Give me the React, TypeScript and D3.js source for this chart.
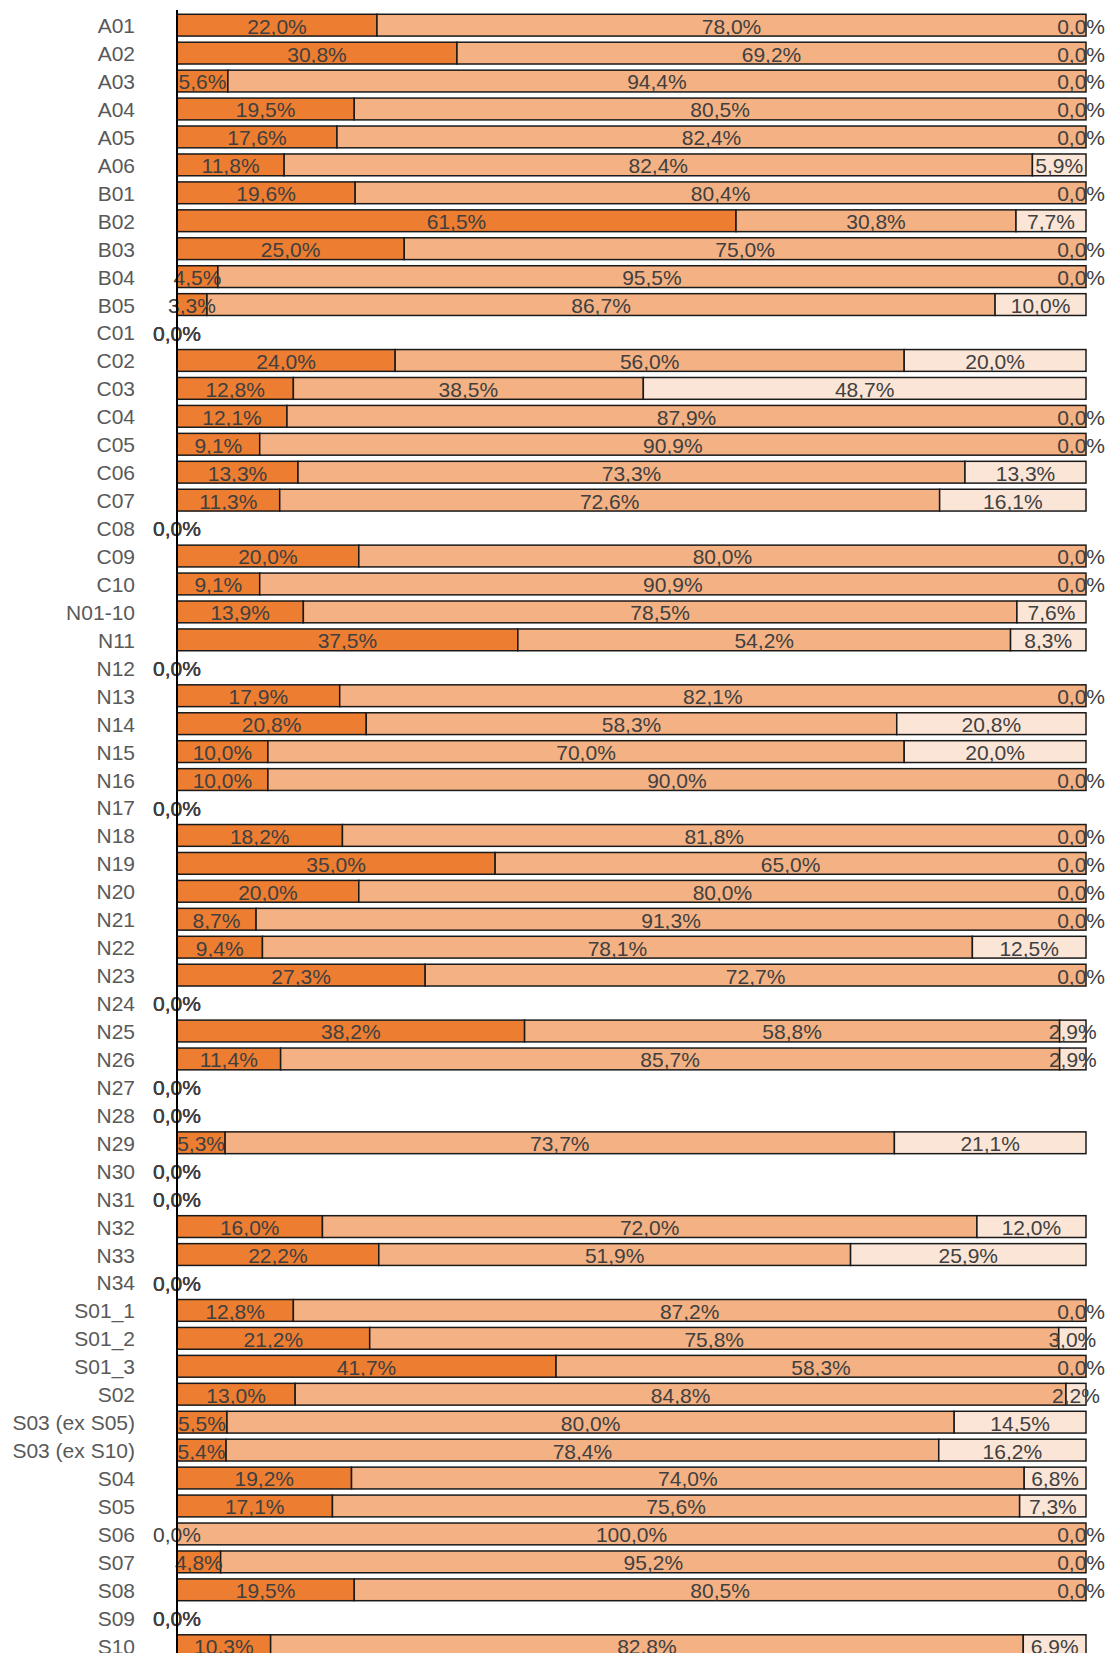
import React, { useRef, useEffect } from 'react';
import * as d3 from 'd3';

const categories = [
  'A01', 'A02', 'A03', 'A04', 'A05', 'A06',
  'B01', 'B02', 'B03', 'B04', 'B05',
  'C01', 'C02', 'C03', 'C04', 'C05', 'C06', 'C07', 'C08', 'C09', 'C10',
  'N01-10', 'N11', 'N12', 'N13', 'N14', 'N15', 'N16', 'N17', 'N18', 'N19', 'N20',
  'N21', 'N22', 'N23', 'N24', 'N25', 'N26', 'N27', 'N28', 'N29', 'N30', 'N31',
  'N32', 'N33', 'N34',
  'S01_1', 'S01_2', 'S01_3', 'S02', 'S03 (ex S05)', 'S03 (ex S10)',
  'S04', 'S05', 'S06', 'S07', 'S08', 'S09', 'S10',
];

const firstShare = [
  22.0, 30.8, 5.6, 19.5, 17.6, 11.8,
  19.6, 61.5, 25.0, 4.5, 3.3,
  0, 24.0, 12.8, 12.1, 9.1, 13.3, 11.3, 0, 20.0, 9.1,
  13.9, 37.5, 0, 17.9, 20.8, 10.0, 10.0, 0, 18.2, 35.0, 20.0,
  8.7, 9.4, 27.3, 0, 38.2, 11.4, 0, 0, 5.3, 0, 0,
  16.0, 22.2, 0,
  12.8, 21.2, 41.7, 13.0, 5.5, 5.4,
  19.2, 17.1, 0.0, 4.8, 19.5, 0, 10.3,
];

const secondShare = [
  78.0, 69.2, 94.4, 80.5, 82.4, 82.4,
  80.4, 30.8, 75.0, 95.5, 86.7,
  0, 56.0, 38.5, 87.9, 90.9, 73.3, 72.6, 0, 80.0, 90.9,
  78.5, 54.2, 0, 82.1, 58.3, 70.0, 90.0, 0, 81.8, 65.0, 80.0,
  91.3, 78.1, 72.7, 0, 58.8, 85.7, 0, 0, 73.7, 0, 0,
  72.0, 51.9, 0,
  87.2, 75.8, 58.3, 84.8, 80.0, 78.4,
  74.0, 75.6, 100.0, 95.2, 80.5, 0, 82.8,
];

const thirdShare = [
  0.0, 0.0, 0.0, 0.0, 0.0, 5.9,
  0.0, 7.7, 0.0, 0.0, 10.0,
  0, 20.0, 48.7, 0.0, 0.0, 13.3, 16.1, 0, 0.0, 0.0,
  7.6, 8.3, 0, 0.0, 20.8, 20.0, 0.0, 0, 0.0, 0.0, 0.0,
  0.0, 12.5, 0.0, 0, 2.9, 2.9, 0, 0, 21.1, 0, 0,
  12.0, 25.9, 0,
  0.0, 3.0, 0.0, 2.2, 14.5, 16.2,
  6.8, 7.3, 0.0, 0.0, 0.0, 0, 6.9,
];

const seriesKeys = ['first', 'second', 'third'];

const BarChart = () => {
  const svgRef = useRef<SVGSVGElement>(null);

  useEffect(() => {
    const svg = d3.select(svgRef.current);
    svg.selectAll('*').remove();

    const width = 1109;
    const height = 1653;
    const left = 177;
    const right = 1086;
    const labelLimit = 1105; // labels are kept inside the chart area
    const step = 27.94;
    const top = 11.2;

    const rows = categories.map((c, i) => ({
      cat: c,
      first: firstShare[i],
      second: secondShare[i],
      third: thirdShare[i],
    }));

    const stacked = d3.stack<any>()
      .keys(seriesKeys)
      .offset(d3.stackOffsetExpand)(rows);

    const x = d3.scaleLinear().domain([0, 1]).range([left, right]);
    const y = d3.scaleBand()
      .domain(categories)
      .range([top, top + step * categories.length])
      .paddingInner(0.22)
      .paddingOuter(0.11);

    const colors = d3.scaleOrdinal<string>()
      .domain(seriesKeys)
      .range(['#ED7D31', '#F4B183', '#FBE5D6']);

    const fmt = d3.formatLocale({
      decimal: ',', thousands: '.', grouping: [3], currency: ['', '€'],
    }).format('.1f');

    const font = '"Liberation Sans", Arial, sans-serif';

    svg.attr('width', width).attr('height', height);

    // bars
    svg.append('g')
      .selectAll('g')
      .data(stacked)
      .enter().append('g')
      .attr('fill', d => colors(d.key))
      .selectAll('rect')
      .data(d => d)
      .enter().append('rect')
      .attr('x', d => x(d[0]))
      .attr('y', d => y(d.data.cat)!)
      .attr('width', d => x(d[1]) - x(d[0]))
      .attr('height', y.bandwidth())
      .attr('stroke', '#1a1a1a')
      .attr('stroke-width', 1.5);

    // value labels
    svg.append('g')
      .selectAll('g')
      .data(stacked)
      .enter().append('g')
      .selectAll('text')
      .data(s => s.map(d => ({ d, key: s.key })))
      .enter().append('text')
      .attr('x', ({ d }) => (x(d[0]) + x(d[1])) / 2)
      .attr('y', ({ d }) => y(d.data.cat)! + y.bandwidth() / 2)
      .attr('dy', '0.4em')
      .attr('text-anchor', 'middle')
      .attr('font-family', font)
      .attr('font-size', 21)
      .attr('fill', '#404040')
      .text(({ d, key }) => fmt(d.data[key]) + '%')
      .each(function () {
        const t = this as SVGTextElement;
        const w = t.getComputedTextLength();
        const cx = +t.getAttribute('x')!;
        if (cx + w / 2 > labelLimit) t.setAttribute('x', String(labelLimit - w / 2));
      });

    // category labels
    svg.append('g')
      .selectAll('text')
      .data(categories)
      .enter().append('text')
      .attr('x', 135)
      .attr('y', d => y(d)! + y.bandwidth() / 2)
      .attr('dy', '0.38em')
      .attr('text-anchor', 'end')
      .attr('font-family', font)
      .attr('font-size', 21)
      .attr('fill', '#595959')
      .text(d => d);

    // axis line
    svg.append('line')
      .attr('x1', left).attr('x2', left)
      .attr('y1', 10).attr('y2', height)
      .attr('stroke', '#000')
      .attr('stroke-width', 2);
  }, []);

  return (
    <svg
      ref={svgRef}
      width={1109}
      height={1653}
      style={{ position: 'absolute', left: 0, top: 0, background: '#fff' }}
    />
  );
};

export default function App() {
  return <BarChart />;
}
